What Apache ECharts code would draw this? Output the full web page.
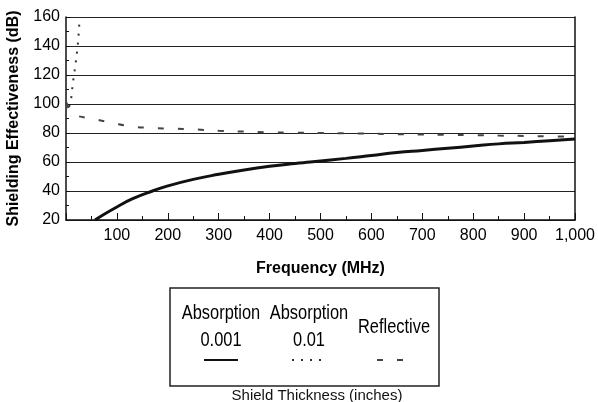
<!DOCTYPE html>
<html>
<head>
<meta charset="utf-8">
<script src="https://cdn.jsdelivr.net/npm/echarts@6/dist/echarts.min.js"></script>
<style>html,body{margin:0;padding:0;background:#fff;}#c{width:598px;height:402px;}</style>
</head>
<body>
<div id="c"></div>
<script>
// Data (frequency in MHz, shielding effectiveness in dB)
var absorption001 = [[57,20],[75,24],[100,29],[130,34.5],[170,40],[200,43.5],[250,48],[300,51.5],[350,54.5],[400,57],[450,59],[480,60],[550,62.5],[600,64.5],[650,66.5],[700,68],[750,69.5],[800,71],[850,72.5],[900,73.5],[950,74.7],[1000,75.8]];
var absorption01 = [[6,98],[10,103],[12,110],[14,116],[17,123],[20,131],[23,140],[25,149],[27,160]];
var reflective = [[1,101],[5,97],[10,94],[20,92],[50,90],[90,87],[130,84.5],[170,83.5],[210,83],[250,82.5],[300,81.5],[350,81],[400,80.5],[450,80.2],[500,80],[550,79.8],[600,79.5],[650,79.2],[700,79],[750,78.7],[800,78.5],[850,78.2],[900,78],[950,77.7],[1000,77.5]];
var legendNames = ['Absorption\n0.001', 'Absorption\n0.01', 'Reflective'];
var xTitle = 'Frequency (MHz)';
var yTitle = 'Shielding Effectiveness (dB)';
var legendTitle = 'Shield Thickness (inches)';

var FONT = "'Liberation Sans', Arial, sans-serif";

var chart = echarts.init(document.getElementById('c'), null, {renderer: 'canvas'});
var lineStyles = [
  {color: '#111', width: 3, type: 'solid'},
  {color: '#333', width: 2, type: [2, 7]},
  {color: '#444', width: 2, type: [6, 14]}
];
var legendCenters = [221, 309, 394];
var graphics = [
  {type: 'rect', shape: {x: 170, y: 288, width: 269, height: 98}, style: {fill: 'none', stroke: '#222', lineWidth: 1.5}},
  {type: 'text', x: 317, y: 396, style: {text: legendTitle, font: '15px ' + FONT, fill: '#111', align: 'center', verticalAlign: 'middle'}}
];
function narrowText(txt, x, y) {
  return {type: 'text', x: x, y: y, scaleX: 0.82, scaleY: 1,
    style: {text: txt, font: '20px ' + FONT, fill: '#000', align: 'center', verticalAlign: 'middle'}};
}
legendNames.forEach(function (n, i) {
  var lines = n.split('\n');
  if (lines.length === 2) {
    graphics.push(narrowText(lines[0], legendCenters[i], 313));
    graphics.push(narrowText(lines[1], legendCenters[i], 340));
  } else {
    graphics.push(narrowText(lines[0], legendCenters[i], 327));
  }
  var ls = lineStyles[i];
  graphics.push({type: 'line', shape: {x1: legendCenters[i] - 17, y1: 360, x2: legendCenters[i] + 17, y2: 360},
    style: {stroke: ls.color, lineWidth: 2, lineDash: ls.type === 'solid' ? null : ls.type}});
});

chart.setOption({
  animation: false,
  backgroundColor: '#fff',
  grid: {left: 66, right: 23, top: 17, bottom: 182, containLabel: false, outerBoundsMode: 'none'},
  xAxis: {
    type: 'value', min: 0, max: 1000, interval: 100,
    name: xTitle, nameLocation: 'middle', nameGap: 41,
    nameTextStyle: {fontFamily: FONT, fontWeight: 'bold', fontSize: 16, color: '#000'},
    axisLine: {show: true, lineStyle: {color: '#111', width: 1.5}},
    axisTick: {show: true, inside: true, length: 7, lineStyle: {color: '#111'}},
    minorTick: {show: true, splitNumber: 2, length: 4, lineStyle: {color: '#111'}},
    splitLine: {show: false},
    axisLabel: {
      fontFamily: FONT, fontSize: 16, color: '#000', margin: 8,
      formatter: function (v) { return v === 0 ? '' : (v >= 1000 ? '1,000' : String(v)); }
    }
  },
  yAxis: [{
    type: 'value', min: 20, max: 160, interval: 20,
    name: yTitle, nameLocation: 'middle', nameGap: 44, nameRotate: 90,
    nameTextStyle: {fontFamily: FONT, fontWeight: 'bold', fontSize: 16, color: '#000'},
    axisLine: {show: true, lineStyle: {color: '#111', width: 1.5}},
    axisTick: {show: true, inside: true, length: 4, lineStyle: {color: '#111'}},
    minorTick: {show: true, splitNumber: 2, length: 3, lineStyle: {color: '#111'}},
    splitLine: {show: true, lineStyle: {color: '#222', width: 1}},
    axisLabel: {fontFamily: FONT, fontSize: 16, color: '#000', margin: 6}
  }, {
    type: 'value', min: 20, max: 160, interval: 20, position: 'right',
    axisLine: {show: true, lineStyle: {color: '#111', width: 1.5}},
    axisTick: {show: false}, axisLabel: {show: false}, splitLine: {show: false}
  }],
  series: [
    {name: legendNames[0], type: 'line', data: absorption001, smooth: true, showSymbol: false, lineStyle: lineStyles[0], clip: true},
    {name: legendNames[1], type: 'line', data: absorption01, smooth: false, showSymbol: false, lineStyle: lineStyles[1], clip: true},
    {name: legendNames[2], type: 'line', data: reflective, smooth: true, showSymbol: false, lineStyle: lineStyles[2], clip: true}
  ],
  graphic: graphics
});
</script>
</body>
</html>
